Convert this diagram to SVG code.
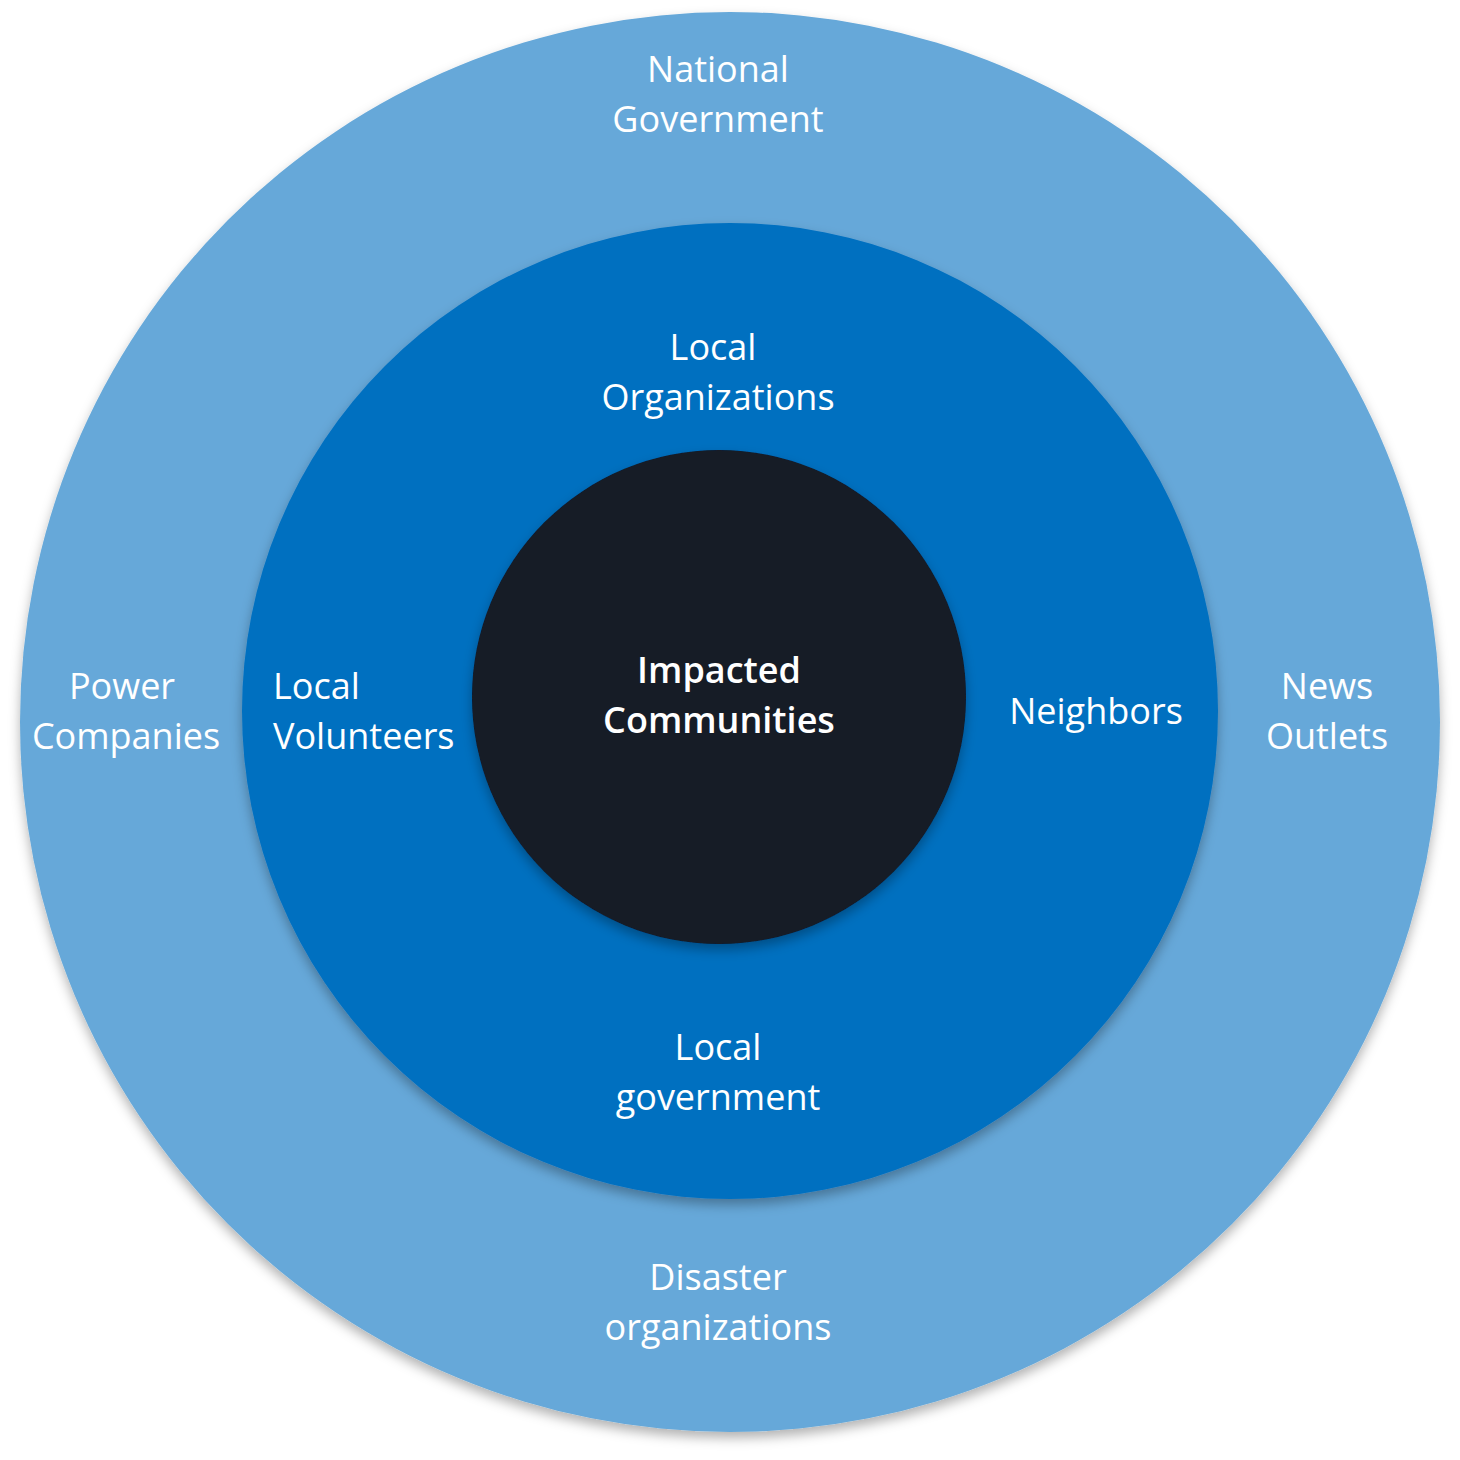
<svg xmlns="http://www.w3.org/2000/svg" width="1460" height="1460" viewBox="0 0 1460 1460">
<style>
text{font-family:"Open Sans","Noto Sans","Liberation Sans",sans-serif;font-size:36px;fill:#ffffff;text-anchor:middle}
.b{font-weight:600}
.l{text-anchor:start}
</style>
<defs>
<filter id="sh" x="-10%" y="-10%" width="120%" height="125%">
<feDropShadow dx="0" dy="6" stdDeviation="6" flood-color="#000" flood-opacity="0.3"/>
</filter>
</defs>
<rect width="1460" height="1460" fill="#ffffff"/>
<g id="outer">
<circle cx="730" cy="722" r="710" fill="#66a8d9" filter="url(#sh)"/>
<text x="718" y="82">National</text>
<text x="718" y="132">Government</text>
<text x="122" y="699">Power</text>
<text x="126" y="749">Companies</text>
<text x="1327" y="699">News</text>
<text x="1327" y="749">Outlets</text>
<text x="718" y="1290">Disaster</text>
<text x="718" y="1340">organizations</text>
</g>
<g id="middle">
<circle cx="730" cy="711" r="488" fill="#0070c0" filter="url(#sh)"/>
<text x="713" y="360">Local</text>
<text x="718" y="410">Organizations</text>
<text class="l" x="273" y="699">Local</text>
<text class="l" x="273" y="749">Volunteers</text>
<text x="1096" y="724">Neighbors</text>
<text x="718" y="1060">Local</text>
<text x="718" y="1110">government</text>
</g>
<g id="inner">
<circle cx="719" cy="697" r="247" fill="#131a28" filter="url(#sh)"/>
<text class="b" x="719" y="683">Impacted</text>
<text class="b" x="719" y="733">Communities</text>
</g>
<g id="connectors"/>
</svg>
